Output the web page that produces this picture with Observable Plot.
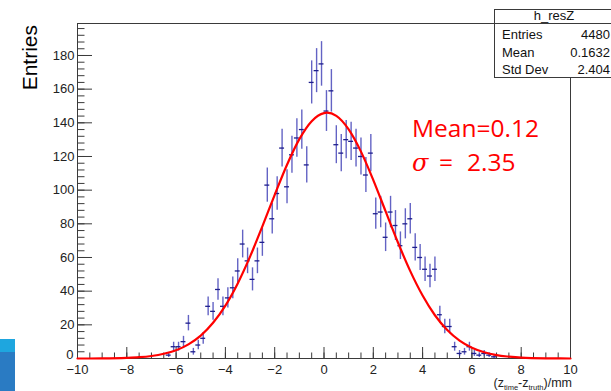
<!DOCTYPE html>
<html>
<head>
<meta charset="utf-8">
<script src="https://cdn.jsdelivr.net/npm/d3@7"></script>
<script src="https://cdn.jsdelivr.net/npm/@observablehq/plot@0.6"></script>
<style>
  html, body { margin: 0; padding: 0; background: #fff; overflow: hidden; }
  #wrap { position: relative; width: 611px; height: 391px; overflow: hidden; }
  #wrap > svg { position: absolute; left: 0; top: 0; }
  #overlay { pointer-events: none; }
</style>
</head>
<body>
<div id="wrap"></div>
<script>
// ---- data ----
const binX = [-6.3,-6.1,-5.9,-5.7,-5.5,-5.3,-5.1,-4.9,-4.7,-4.5,-4.3,-4.1,-3.9,-3.7,-3.5,-3.3,-3.1,-2.9,-2.7,-2.5,-2.3,-2.1,-1.9,-1.7,-1.5,-1.3,-1.1,-0.9,-0.7,-0.5,-0.3,-0.1,0.1,0.3,0.5,0.7,0.9,1.1,1.3,1.5,1.7,1.9,2.1,2.3,2.5,2.7,2.9,3.1,3.3,3.5,3.7,3.9,4.1,4.3,4.5,4.7,4.9,5.1,5.3,5.5,5.7,5.9,6.1,6.3,6.5,6.7,6.9];
const counts = [2,7,7,10,21,4,8,12,31,28,41,31,36,42,52,68,58,47,58,69,103,83,98,125,102,121,131,136,115,164,171,175,147,159,127,122,130,129,125,120,109,122,86,87,72,87,79,67,80,83,66,60,53,49,53,26,19,19,7,3,4,7,3,2,3,2,1];
const binHalfWidth = 0.1;

const fitX = [-10,-9,-8,-7.5,-7,-6.5,-6,-5.5,-5,-4.5,-4,-3.5,-3,-2.5,-2,-1.5,-1,-0.5,0,0.12,0.5,1,1.5,2,2.5,3,3.5,4,4.5,5,5.5,6,6.5,7,7.5,8,9,10];
const fitY = [0,0.05,0.37,0.76,1.5,2.8,4.9,8.4,13.6,21.2,31.4,44.6,60.5,78.5,97.2,115.1,130.3,141.0,145.8,146.0,144.1,136.1,122.9,106.0,87.4,68.9,51.9,37.4,25.7,16.9,10.6,6.4,3.7,2.0,1.1,0.5,0.1,0];

const xTicks = [-10,-8,-6,-4,-2,0,2,4,6,8,10];
const yTicks = [0,20,40,60,80,100,120,140,160,180];
const xMinor = d3.range(-10, 10.001, 0.5);
const yMinor = d3.range(0, 199, 4);

const statsTitle = "h_resZ";
const statsLabels = ["Entries", "Mean", "Std Dev"];
const statsValues = ["4480", "0.1632", "2.404"];
const fitMeanText = "Mean=0.12";
const fitSigmaText = "2.35";

// ---- layout ----
const W = 611, H = 391;
const mL = 77, mR = 41, mT = 23, mB = 33;
const frameW = W - mL - mR, frameH = H - mT - mB;
const axisColor = "#3a3a3a";
const pointColor = "#2f2fb0";

const hist = binX.map((x, i) => ({x, y: counts[i], e: Math.sqrt(counts[i])}));
const fit = fitX.map((x, i) => ({x, y: fitY[i]}));

const chart = Plot.plot({
  width: W, height: H,
  marginLeft: mL, marginRight: mR, marginTop: mT, marginBottom: mB,
  x: {domain: [-10, 10]},
  y: {domain: [0, 199]},
  style: {fontFamily: "'Liberation Sans', Arial, sans-serif", fontSize: "13px", background: "transparent", color: "#222"},
  marks: [
    Plot.frame({stroke: axisColor, strokeWidth: 1}),
    Plot.tickX(xTicks, {x: d => d, insetTop: frameH - 11, stroke: axisColor, strokeWidth: 1}),
    Plot.tickX(xMinor, {x: d => d, insetTop: frameH - 5.5, stroke: axisColor, strokeWidth: 1}),
    Plot.tickY(yTicks, {y: d => d, insetRight: frameW - 15, stroke: axisColor, strokeWidth: 1}),
    Plot.tickY(yMinor, {y: d => d, insetRight: frameW - 7.5, stroke: axisColor, strokeWidth: 1}),
    Plot.axisX({ticks: xTicks, tickSize: 0, tickPadding: 6, label: null, fontSize: 13, fill: "#222"}),
    Plot.axisY({ticks: yTicks.slice(1), tickSize: 0, tickPadding: 3, label: null, fontSize: 13, fill: "#222"}),
    Plot.axisY({ticks: yTicks.slice(0, 1), tickSize: 0, tickPadding: 4, label: null, fontSize: 13, fill: "#222", dy: -4}),
    Plot.ruleX(hist, {x: "x", y1: d => Math.max(0, d.y - d.e), y2: d => d.y + d.e, stroke: pointColor, strokeWidth: 1.4, strokeOpacity: 0.75}),
    Plot.ruleY(hist, {y: "y", x1: d => d.x - binHalfWidth, x2: d => d.x + binHalfWidth, stroke: "#1e1e8c", strokeWidth: 1.3}),
    Plot.line(fit, {x: "x", y: "y", curve: "monotone-x", stroke: "#ff0000", strokeWidth: 2.2})
  ]
});
document.getElementById("wrap").appendChild(chart);

// ---- overlay: titles, stats box, fit annotation, slide decoration ----
const ns = "http://www.w3.org/2000/svg";
const ov = document.createElementNS(ns, "svg");
ov.setAttribute("id", "overlay");
ov.setAttribute("width", W); ov.setAttribute("height", H);
function el(tag, attrs, text) {
  const e = document.createElementNS(ns, tag);
  for (const k in attrs) e.setAttribute(k, attrs[k]);
  if (text != null) e.textContent = text;
  ov.appendChild(e);
  return e;
}
// slide decoration bottom-left
el("rect", {x: 0, y: 339, width: 15, height: 13, fill: "#1ea6df"});
el("rect", {x: 0, y: 352, width: 15, height: 39, fill: "#2a7bc3"});

// y axis title
el("text", {x: 0, y: 0, transform: "translate(37,25) rotate(-90)", "text-anchor": "end",
  "font-family": "'Liberation Sans', Arial, sans-serif", "font-size": 21, fill: "#000"}, "Entries");

// x axis title with subscripts
const xt = el("text", {x: 572, y: 386.5, "text-anchor": "end", "font-family": "'Liberation Sans', Arial, sans-serif", "font-size": 12.5, fill: "#222"});
function ts(t, attrs) { const s = document.createElementNS(ns, "tspan"); s.textContent = t; for (const k in attrs) s.setAttribute(k, attrs[k]); xt.appendChild(s); return s; }
ts("(z");
ts("time", {"font-size": 7.5, dy: 3.5});
ts("-z", {dy: -3.5});
ts("truth", {"font-size": 7.5, dy: 3.5});
ts(")/mm", {dy: -3.5});

// stats box
const bx = 494, by = 9, bw = 130, bh = 68;
el("rect", {x: bx + 0.5, y: by + 0.5, width: bw, height: bh, fill: "#fff", stroke: axisColor, "stroke-width": 1});
el("line", {x1: bx, x2: bx + bw, y1: mT + 0.5, y2: mT + 0.5, stroke: axisColor, "stroke-width": 1});
el("text", {x: 554, y: 20, "text-anchor": "middle", "font-family": "'Liberation Sans', Arial, sans-serif", "font-size": 13, fill: "#111"}, statsTitle);
const rowY = [39, 57, 74];
statsLabels.forEach((lab, i) => {
  el("text", {x: 502, y: rowY[i], "font-family": "'Liberation Sans', Arial, sans-serif", "font-size": 13, fill: "#111"}, lab);
  el("text", {x: 610, y: rowY[i], "text-anchor": "end", "font-family": "'Liberation Sans', Arial, sans-serif", "font-size": 13, fill: "#111"}, statsValues[i]);
});

// fit annotation
el("text", {x: 412, y: 137, "font-family": "'Open Sans', sans-serif", "font-size": 24.5, fill: "#ff0000"}, fitMeanText);
el("text", {x: 412, y: 171, "font-family": "'DejaVu Serif', serif", "font-style": "italic", "font-size": 24, fill: "#ff0000"}, "σ");
el("text", {x: 439, y: 171, "font-family": "'Open Sans', sans-serif", "font-size": 24.5, fill: "#ff0000"}, "=");
el("text", {x: 467, y: 171, "font-family": "'Open Sans', sans-serif", "font-size": 24.5, fill: "#ff0000"}, fitSigmaText);

document.getElementById("wrap").appendChild(ov);
</script>
</body>
</html>
